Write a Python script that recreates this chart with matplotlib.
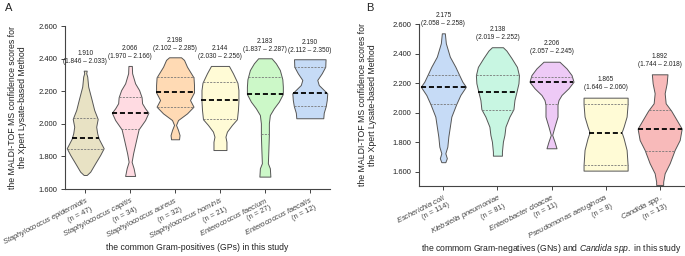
import numpy as np
import matplotlib
matplotlib.use("Agg")
import matplotlib.pyplot as plt

plt.rcParams['font.family'] = ['Liberation Sans', 'DejaVu Sans']
plt.rcParams['mathtext.fontset'] = 'custom'
plt.rcParams['mathtext.rm'] = 'Liberation Sans'
plt.rcParams['mathtext.it'] = 'Liberation Sans:italic'

# ---------------- Panel A data (Gram-positives) ----------------
gp_names = ["Staphylococcus epidermidis", "Staphylococcus capitis", "Staphylococcus aureus",
            "Staphylococcus hominis", "Enterococcus faecium", "Enterococcus faecalis"]
gp_n = [47, 34, 32, 21, 27, 12]
gp_median = [1.910, 2.066, 2.198, 2.144, 2.183, 2.190]
gp_q1 = [1.846, 1.970, 2.102, 2.030, 1.937, 2.112]
gp_q3 = [2.033, 2.166, 2.285, 2.256, 2.287, 2.350]
gp_median_text = ["1.910", "2.066", "2.198", "2.144", "2.183", "2.190"]
gp_range_text = ["(1.846 – 2.033)", "(1.970 – 2.166)", "(2.102 – 2.285)",
                 "(2.030 – 2.256)", "(1.837 – 2.287)", "(2.112 – 2.350)"]
gp_colors = ["#e8e2c4", "#ffdbe2", "#ffdab4", "#fffbd6", "#ccf8c8", "#c6dbf6"]
# violin outline profiles: score levels and relative half-widths
gp_prof_y = [
    [1.686, 1.706, 1.758, 1.809, 1.850, 1.909, 1.942, 1.982, 2.030, 2.085, 2.146, 2.228, 2.290, 2.310, 2.326],
    [1.680, 1.727, 1.767, 1.819, 1.900, 1.966, 2.023, 2.068, 2.095, 2.126, 2.163, 2.207, 2.248, 2.310, 2.355],
    [1.905, 1.931, 1.962, 1.993, 2.023, 2.064, 2.105, 2.146, 2.193, 2.238, 2.285, 2.350, 2.392, 2.408],
    [1.839, 1.890, 1.921, 1.952, 1.993, 2.028, 2.085, 2.140, 2.207, 2.252, 2.310, 2.355],
    [1.676, 1.727, 1.758, 1.839, 1.931, 2.003, 2.054, 2.095, 2.136, 2.183, 2.228, 2.273, 2.330, 2.371, 2.402],
    [2.034, 2.068, 2.109, 2.146, 2.187, 2.238, 2.269, 2.310, 2.350, 2.396],
]
gp_prof_w = [
    [1.5, 5, 10, 15, 18.5, 13.5, 12, 11, 12.5, 9, 6.5, 3, 2, 1, 1.5],
    [5, 3.5, 1.5, 3, 6, 8.5, 15, 18.3, 15, 12, 11.5, 9, 5, 2, 1.7],
    [4, 4.5, 3, 1, 3, 12, 18.5, 15, 19, 19, 18.5, 12, 9, 6],
    [6.5, 6.5, 5.5, 7, 12, 17, 18, 18.5, 18.5, 17.5, 13, 9],
    [5.5, 5, 3, 3.5, 4, 4, 5, 9, 14, 18, 18, 17.5, 15, 11, 6.7],
    [13.5, 14, 16, 17, 17.5, 9, 7.5, 12, 15.5, 15.8],
]

# ---------------- Panel B data (Gram-negatives and Candida) ----------------
gn_names = ["Escherichia coli", "Klebsiella pneumoniae", "Enterobacter cloacae",
            "Pseudomonas aeruginosa", "Candida spp."]
gn_n = [114, 81, 11, 8, 13]
gn_median = [2.175, 2.138, 2.206, 1.865, 1.892]
gn_q1 = [2.058, 2.019, 2.057, 1.646, 1.744]
gn_q3 = [2.258, 2.252, 2.245, 2.060, 2.018]
gn_median_text = ["2.175", "2.138", "2.206", "1.865", "1.892"]
gn_range_text = ["(2.058 – 2.258)", "(2.019 – 2.252)", "(2.057 – 2.245)",
                 "(1.646 – 2.060)", "(1.744 – 2.018)"]
gn_colors = ["#c6dbf6", "#c8f6e2", "#eecaf6", "#fffbd6", "#f8baba"]
gn_prof_y = [
    [1.666, 1.693, 1.726, 1.771, 1.839, 1.906, 1.974, 2.057, 2.120, 2.176, 2.210, 2.260, 2.311, 2.379, 2.470, 2.537],
    [1.710, 1.737, 1.805, 1.850, 1.906, 1.974, 2.024, 2.086, 2.141, 2.199, 2.253, 2.310, 2.370, 2.420, 2.443],
    [1.760, 1.805, 1.850, 1.906, 1.974, 2.055, 2.086, 2.120, 2.166, 2.210, 2.255, 2.300, 2.345],
    [1.609, 1.647, 1.749, 1.828, 1.868, 1.906, 1.974, 2.059, 2.102],
    [1.512, 1.534, 1.591, 1.659, 1.749, 1.816, 1.893, 1.951, 2.014, 2.064, 2.132, 2.199, 2.260],
]
gn_prof_w = [
    [2, 3.5, 2, 4, 5, 6.5, 8, 12.8, 17, 22.5, 19, 15.5, 12, 6.5, 2.5, 1.5],
    [4.5, 4.5, 5.5, 7, 8, 12, 16, 17, 19, 21, 21.5, 19.5, 14, 9, 5.5],
    [5, 3, 0.7, 3, 6, 6, 7, 10, 17, 22, 20, 15, 8],
    [22, 22, 21, 18, 16, 18, 21, 22, 22],
    [3.5, 3.5, 5, 10, 15, 20, 22, 17, 11.5, 6, 5, 7, 7.8],
]

TXT = "#222222"
EDGE = "#555555"

fig = plt.figure(figsize=(6.85, 2.56), dpi=100)
axA = fig.add_axes([65 / 685, 1 - 189 / 256, 265 / 685, 163 / 256])
axB = fig.add_axes([419 / 685, 1 - 186 / 256, 265 / 685, 162 / 256])


def draw_panel(ax, names, ns, med, q1, q3, med_txt, rng_txt, colors, py, pw,
               px_per_unit, ylim, text_off, xlabel):
    k = len(names)
    for i in range(k):
        ys = np.array(py[i])
        ws = np.array(pw[i]) / px_per_unit
        ax.fill_betweenx(ys, i - ws, i + ws, facecolor=colors[i], edgecolor=EDGE,
                         linewidth=0.7, zorder=2)
        for lvl, lw, col, dash in [(q1[i], 0.6, "#777777", (2.5, 1.5)),
                                   (q3[i], 0.6, "#777777", (2.5, 1.5)),
                                   (med[i], 1.3, "black", (2.8, 1.6))]:
            hw = np.interp(lvl, ys, ws)
            ax.plot([i - hw, i + hw], [lvl, lvl], color=col, lw=lw,
                    linestyle=(0, dash), zorder=3, solid_capstyle='butt',
                    dash_capstyle='butt')
        ax.text(i, ys.max() + text_off, med_txt[i] + "\n" + rng_txt[i],
                ha="center", va="bottom", fontsize=4.7, color=TXT,
                linespacing=1.2, clip_on=False, zorder=4)
    ax.set_xlim(-0.45, k - 0.55)
    ax.set_ylim(*ylim)
    ax.set_yticks(np.arange(1.6, 2.61, 0.2))
    ax.set_yticklabels([f"{v:.3f}" for v in np.arange(1.6, 2.61, 0.2)])
    labels = [r"$\it{" + nm.replace(" ", r"\ ") + "}$" + f"\n(n = {n})"
              for nm, n in zip(names, ns)]
    ax.set_xticks(range(k))
    ax.set_xticklabels(labels, rotation=27, ha="right", rotation_mode="anchor",
                       ma="right", fontsize=5.4, color=TXT, linespacing=1.15)
    for s in ["top", "right"]:
        ax.spines[s].set_visible(False)
    for s in ["left", "bottom"]:
        ax.spines[s].set_color("#444444")
        ax.spines[s].set_linewidth(0.8)
    ax.tick_params(axis="y", labelsize=5.5, colors="#444444", labelcolor=TXT,
                   length=3, width=0.7, pad=2.5)
    ax.tick_params(axis="x", colors="#444444", length=3, width=0.7, pad=1.5)
    ax.set_ylabel("the MALDI-TOF MS confidence scores for\nthe Xpert Lysate-based Method",
                  fontsize=6.3, color=TXT, linespacing=1.1)
    ax.set_xlabel(xlabel, fontsize=6.2, color=TXT)


draw_panel(axA, gp_names, gp_n, gp_median, gp_q1, gp_q3, gp_median_text, gp_range_text,
           gp_colors, gp_prof_y, gp_prof_w, 45.0, (1.6, 2.6), 0.035,
           "the common Gram-positives (GPs) in this study")
draw_panel(axB, gn_names, gn_n, gn_median, gn_q1, gn_q3, gn_median_text, gn_range_text,
           gn_colors, gn_prof_y, gn_prof_w, 54.0, (1.505, 2.6), 0.045,
           r"the commom Gram-negatives (GNs) and $\it{Candida\ spp.}$ in this study")

axA.yaxis.set_label_coords(-38 / 265, 0.5)
axB.yaxis.set_label_coords(-42 / 265, 0.5)
axA.xaxis.set_label_coords(0.5, -(243 - 189) / 163)
axB.xaxis.set_label_coords(0.5, -(242 - 186) / 162)

fig.text(5 / 685, 1 - 3 / 256, "A", fontsize=8, color=TXT, ha="left", va="top")
fig.text(366 / 685, 1 - 3 / 256, "B", fontsize=8, color=TXT, ha="left", va="top")

fig.savefig("out.png", dpi=100)
